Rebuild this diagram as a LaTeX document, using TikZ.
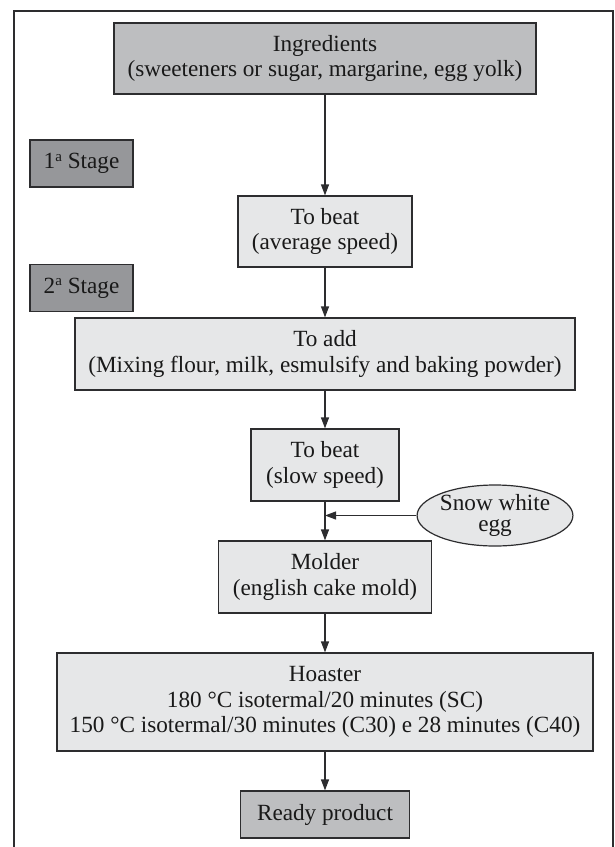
\documentclass[tikz,border=0pt]{standalone}
\usepackage{fontspec}
\setmainfont{Liberation Serif}
\usetikzlibrary{arrows.meta,shapes.geometric}

\definecolor{fill_light}{RGB}{230,231,232}
\definecolor{fill_mid}{RGB}{189,190,192}
\definecolor{fill_dark}{RGB}{150,151,154}
\definecolor{line_gray}{RGB}{45,45,47}

\newcommand{\ordsup}{\raisebox{0.33em}{\fontsize{7.5}{7.5}\selectfont a}}

\begin{document}
\begin{tikzpicture}[x=0.5pt, y=-0.5pt]

\tikzstyle{box} = [rectangle, draw=line_gray, line width=0.6pt, inner sep=0pt, align=center, text=black!90, font=\fontsize{11.6}{12.6}\selectfont]
\tikzstyle{box_light} = [box, fill=fill_light]
\tikzstyle{box_mid} = [box, fill=fill_mid]
\tikzstyle{box_stage} = [box, fill=fill_dark, minimum width=51.5pt, minimum height=23.5pt]
\tikzstyle{input_oval} = [ellipse, draw=line_gray, line width=0.6pt, fill=fill_light, inner sep=0pt, align=center, text=black!90, font=\fontsize{11.6}{10.8}\selectfont, minimum width=71pt, minimum height=30.5pt]
\tikzstyle{edge} = [-{Triangle[length=5.5pt, width=4pt]}, line width=0.6pt, draw=line_gray]

\useasboundingbox (0,0) rectangle (615,847);
\draw[line_gray, line width=0.6pt] (14,847) -- (14,11) -- (613,11) -- (613,847);

%------------------------------------------------------------
	\node[box_mid, minimum width=211pt, minimum height=35.5pt] (ingredients) at (325,58.5) {Ingredients\\(sweeteners or sugar, margarine, egg yolk)};
	\node[box_stage] (stage1) at (81.5,163.5) {1\ordsup\ Stage};
	\node[box_light, minimum width=87pt, minimum height=35.5pt] (beat_avg) at (325,231.5) {To beat\\(average speed)};

	\draw[edge] (ingredients) -- (beat_avg);

%------------------------------------------------------------
	\node[box_stage] (stage2) at (81.5,288) {2\ordsup\ Stage};
	\node[box_light, minimum width=250pt, minimum height=36pt] (add) at (325,354) {To add\\(Mixing flour, milk, esmulsify and baking powder)};
	\node[box_light, minimum width=74pt, minimum height=36pt] (beat_slow) at (325,465) {To beat\\(slow speed)};
	\node[input_oval] (egg) at (495,515.5) {Snow white\\egg};
	\node[box_light, minimum width=106.5pt, minimum height=36pt] (molder) at (325,577) {Molder\\(english cake mold)};
	\coordinate (join) at (beat_slow.south |- egg.west);

	\draw[edge] (beat_avg) -- (add);
	\draw[edge] (add) -- (beat_slow);
	\draw[edge] (beat_slow) -- (molder);
	\draw[edge] (egg.west) -- (join);

%------------------------------------------------------------
	\node[box_light, minimum width=268pt, minimum height=49pt] (hoaster) at (325,702) {Hoaster\\180 °C isotermal/20 minutes (SC)\\150 °C isotermal/30 minutes (C30) e 28 minutes (C40)};
	\node[box_mid, minimum width=84.5pt, minimum height=23.5pt] (ready) at (325,814.5) {Ready product};

	\draw[edge] (molder) -- (hoaster);
	\draw[edge] (hoaster) -- (ready);

\end{tikzpicture}
\end{document}
